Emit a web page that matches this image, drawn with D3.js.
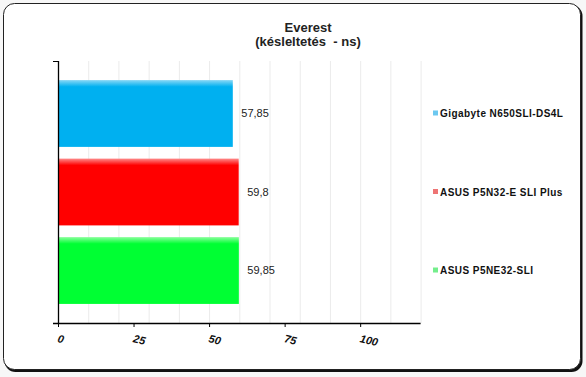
<!DOCTYPE html>
<html>
<head>
<meta charset="utf-8">
<script src="https://cdn.jsdelivr.net/npm/d3@7"></script>
<style>
  html, body { margin: 0; padding: 0; background: #f7f7f7; }
  svg { display: block; }
</style>
</head>
<body>
<svg id="chart" width="586" height="377"></svg>
<script>
const categories = ["Gigabyte N650SLI-DS4L", "ASUS P5N32-E SLI Plus", "ASUS P5NE32-SLI"];
const values = [57.85, 59.8, 59.85];
const valueLabels = ["57,85", "59,8", "59,85"];
const barColors = ["#00b0f0", "#ff0000", "#00ff33"];
const barLight = ["#8ad8f6", "#ff8c8c", "#8cff9e"];
const legendColors = ["#6cc8f0", "#ee7474", "#74ee8c"];
const xTicks = [0, 25, 50, 75, 100];
const gridTicks = [10, 20, 30, 40, 50, 60, 70, 80, 90, 100, 110, 120];
const titleLines = ["Everest", "(késleltetés  - ns)"];

const svg = d3.select("#chart");

// frame with shadow
svg.append("rect").attr("x", 4.5).attr("y", 5).attr("width", 578).attr("height", 367)
  .attr("rx", 11).attr("fill", "#111");
svg.append("rect").attr("x", 3.5).attr("y", 3.5).attr("width", 577).attr("height", 366)
  .attr("rx", 11).attr("fill", "#ffffff").attr("stroke", "#222").attr("stroke-width", 1);

const pLeft = 58, pRight = 420.6, pTop = 61, pBottom = 323;
const x = d3.scaleLinear().domain([0, 120]).range([pLeft, pRight]);
const y = d3.scaleBand().domain(categories).range([pTop, pBottom])
  .paddingInner(0.149).paddingOuter(0.243);

// gradients
const defs = svg.append("defs");
categories.forEach((c, i) => {
  const g = defs.append("linearGradient").attr("id", "g" + i)
    .attr("x1", 0).attr("y1", 0).attr("x2", 0).attr("y2", 1);
  g.append("stop").attr("offset", "0%").attr("stop-color", barLight[i]);
  g.append("stop").attr("offset", "10%").attr("stop-color", barColors[i]);
  g.append("stop").attr("offset", "100%").attr("stop-color", barColors[i]);
});

// gridlines
svg.append("g").selectAll("line").data(gridTicks).join("line")
  .attr("x1", d => x(d) + 0.5).attr("x2", d => x(d) + 0.5)
  .attr("y1", pTop).attr("y2", pBottom)
  .attr("stroke", "#ebebeb").attr("stroke-width", 1);

// bars
svg.append("g").selectAll("rect").data(categories).join("rect")
  .attr("x", x(0)).attr("y", d => y(d))
  .attr("width", (d, i) => x(values[i]) - x(0))
  .attr("height", y.bandwidth())
  .attr("fill", (d, i) => `url(#g${i})`);

// value labels
svg.append("g").selectAll("text").data(categories).join("text")
  .attr("x", (d, i) => x(values[i]) + 8.5)
  .attr("y", d => y(d) + y.bandwidth() / 2)
  .attr("dy", "0.35em")
  .attr("font-family", "Liberation Sans, Arial, sans-serif")
  .attr("font-size", 11)
  .attr("fill", "#222")
  .text((d, i) => valueLabels[i]);

// y axis line
svg.append("line").attr("x1", pLeft + 0.5).attr("x2", pLeft + 0.5)
  .attr("y1", pTop).attr("y2", pBottom + 1).attr("stroke", "#000").attr("stroke-width", 1.3);
svg.append("line").attr("x1", pLeft - 5).attr("x2", pLeft).attr("y1", pTop + 0.5).attr("y2", pTop + 0.5)
  .attr("stroke", "#000");

// x axis
const xAxis = svg.append("g").attr("transform", `translate(0,${pBottom})`)
  .call(d3.axisBottom(x).tickValues(xTicks).tickSize(4).tickSizeOuter(0).tickFormat(d3.format("d")));
xAxis.select(".domain").attr("d", `M${pLeft - 5},0.5H${pRight}`).attr("stroke", "#000").attr("stroke-width", 1.3);
xAxis.selectAll(".tick line").attr("stroke", "#000");
xAxis.selectAll(".tick text")
  .attr("font-family", "Liberation Sans, Arial, sans-serif")
  .attr("font-size", 11).attr("font-weight", "bold").attr("font-style", "italic")
  .attr("fill", "#111")
  .attr("text-anchor", "start")
  .attr("y", 0).attr("dy", 0)
  .attr("transform", "translate(-1.5,19) rotate(13)");

// title
svg.append("g").selectAll("text").data(titleLines).join("text")
  .attr("x", 308).attr("y", (d, i) => 32 + i * 14)
  .attr("text-anchor", "middle")
  .attr("font-family", "Liberation Sans, Arial, sans-serif")
  .attr("font-size", 13).attr("font-weight", "bold")
  .attr("fill", "#222")
  .style("white-space", "pre")
  .text(d => d);

// legend
const leg = svg.append("g").selectAll("g").data(categories).join("g")
  .attr("transform", d => `translate(433,${y(d) + y.bandwidth() / 2})`);
leg.append("rect").attr("x", 0).attr("y", -3).attr("width", 5).attr("height", 5)
  .attr("fill", (d, i) => legendColors[i]);
leg.append("text").attr("x", 7).attr("y", 0).attr("dy", "0.35em")
  .attr("font-family", "Liberation Sans, Arial, sans-serif")
  .attr("font-size", 10).attr("font-weight", "bold")
  .attr("fill", "#111")
  .style("letter-spacing", "0.45px")
  .text(d => d);
</script>
</body>
</html>
